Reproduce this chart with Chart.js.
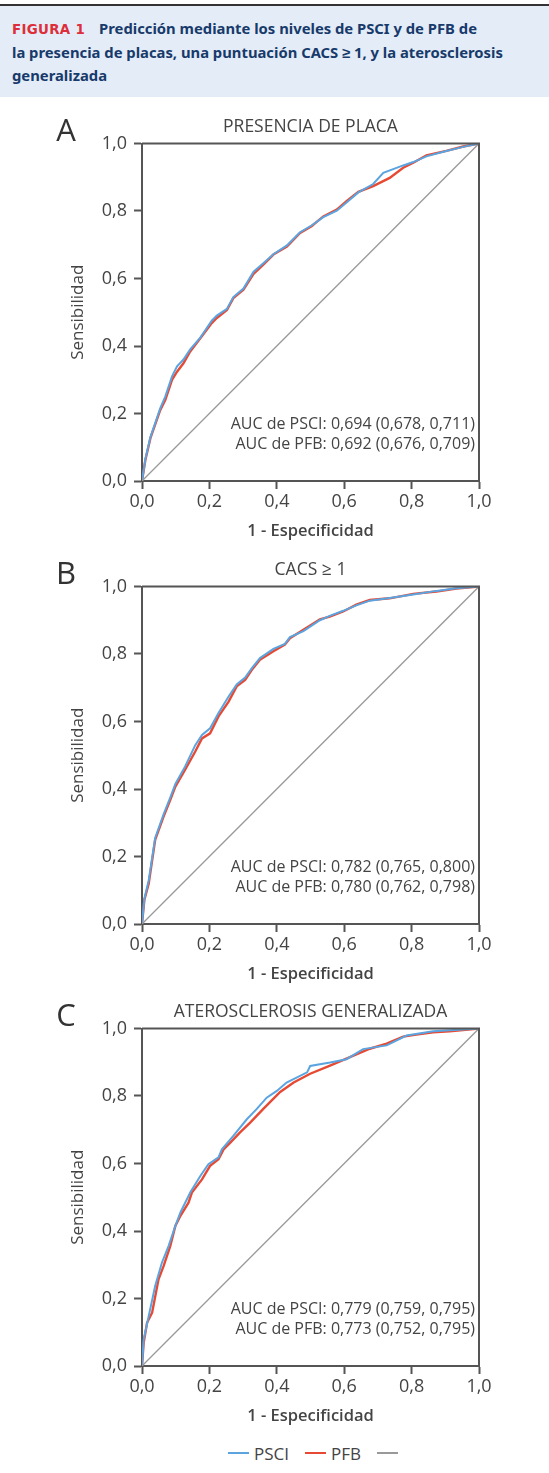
<!DOCTYPE html>
<html>
<head>
<meta charset="utf-8">
<script src="https://cdn.jsdelivr.net/npm/chart.js@4"></script>
<style>
  body { margin: 0; background: #fff; width: 549px; height: 1473px; position: relative; overflow: hidden; font-family: "Open Sans", sans-serif; }
  #header { position: absolute; left: 0; top: 4px; width: 549px; height: 93px; border-top: 2px solid #333; background: #e3ecf7; box-sizing: border-box; padding: 11px 12px 0 12px; font-family: "Noto Sans", sans-serif; font-weight: 700; font-size: 14.8px; line-height: 23px; color: #173a6b; white-space: nowrap; }
  #header .fig { color: #dd2f3a; font-family: "DejaVu Sans", sans-serif; font-size: 13.4px; letter-spacing: 0.3px; margin-right: 14px; }
  canvas { position: absolute; left: 0; }
  #legend { position: absolute; top: 1441px; left: 228px; font-size: 17px; color: #444; display: flex; align-items: center; height: 24px; }
  #legend span.l { display: inline-block; width: 21px; height: 2px; margin-right: 5px; }
  #legend span.t { margin-right: 16px; }
</style>
</head>
<body>
<div id="header"><span class="fig">FIGURA 1</span>Predicción mediante los niveles de PSCI y de PFB de<br>la presencia de placas, una puntuación CACS ≥ 1, y la aterosclerosis<br>generalizada</div>
<canvas id="chartA" width="549" height="445" style="top:100px"></canvas>
<canvas id="chartB" width="549" height="445" style="top:543px"></canvas>
<canvas id="chartC" width="549" height="445" style="top:985px"></canvas>
<div id="legend"><span class="l" style="background:#5ba4e0"></span><span class="t">PSCI</span><span class="l" style="background:#e64a34"></span><span class="t">PFB</span><span class="l" style="background:#999"></span></div>
<script>
// Valores (1 - especificidad, sensibilidad)
const axisTicks = [0, 0.2, 0.4, 0.6, 0.8, 1.0];
const diagX = [0, 1];
const diagY = [0, 1];

// A - presencia de placa
const aPsciFpr = [0,0.01,0.025,0.054,0.069,0.089,0.104,0.123,0.143,0.173,0.207,0.222,0.252,0.271,0.301,0.331,0.36,0.39,0.43,0.469,0.503,0.538,0.578,0.607,0.642,0.686,0.716,0.775,0.805,0.844,0.903,0.953,1];
const aPsciTpr = [0,0.065,0.13,0.215,0.25,0.31,0.34,0.36,0.39,0.425,0.475,0.49,0.51,0.545,0.57,0.62,0.645,0.672,0.698,0.737,0.757,0.782,0.801,0.825,0.855,0.88,0.913,0.935,0.945,0.962,0.978,0.99,1];
const aPfbFpr = [0,0.01,0.025,0.054,0.069,0.089,0.104,0.123,0.143,0.173,0.207,0.222,0.252,0.271,0.301,0.331,0.36,0.39,0.43,0.469,0.503,0.538,0.578,0.607,0.642,0.686,0.735,0.775,0.805,0.844,0.903,0.953,1];
const aPfbTpr = [0,0.062,0.127,0.21,0.24,0.30,0.324,0.349,0.384,0.423,0.468,0.483,0.507,0.542,0.567,0.614,0.641,0.671,0.695,0.735,0.755,0.784,0.804,0.829,0.857,0.874,0.898,0.928,0.943,0.965,0.978,0.991,1];

// B - CACS >= 1
const bPsciFpr = [0,0.007,0.02,0.039,0.064,0.084,0.099,0.128,0.158,0.178,0.202,0.227,0.257,0.281,0.306,0.326,0.35,0.39,0.424,0.439,0.479,0.528,0.557,0.597,0.636,0.676,0.735,0.805,0.874,0.933,1];
const bPsciTpr = [0,0.075,0.13,0.255,0.325,0.375,0.415,0.467,0.53,0.56,0.58,0.625,0.674,0.71,0.73,0.758,0.788,0.815,0.83,0.85,0.868,0.9,0.913,0.928,0.944,0.958,0.966,0.976,0.987,0.995,1];
const bPfbFpr = [0,0.007,0.02,0.039,0.064,0.084,0.099,0.128,0.158,0.178,0.202,0.227,0.257,0.281,0.306,0.326,0.35,0.39,0.424,0.439,0.479,0.528,0.557,0.597,0.636,0.676,0.735,0.805,0.874,0.933,1];
const bPfbTpr = [0,0.071,0.12,0.249,0.318,0.368,0.407,0.457,0.511,0.55,0.565,0.615,0.659,0.704,0.723,0.753,0.783,0.808,0.828,0.847,0.872,0.903,0.911,0.926,0.946,0.96,0.965,0.978,0.985,0.994,1];

// C - aterosclerosis generalizada
const cPsciFpr = [0,0.005,0.02,0.039,0.059,0.079,0.099,0.114,0.143,0.173,0.197,0.227,0.237,0.271,0.311,0.34,0.37,0.4,0.429,0.49,0.499,0.558,0.607,0.656,0.726,0.785,0.864,1];
const cPsciTpr = [0,0.079,0.148,0.237,0.306,0.356,0.415,0.455,0.514,0.563,0.598,0.618,0.642,0.682,0.731,0.761,0.795,0.815,0.84,0.87,0.889,0.899,0.909,0.939,0.95,0.979,0.992,1];
const cPfbFpr = [0,0.005,0.015,0.03,0.049,0.064,0.084,0.099,0.114,0.138,0.148,0.178,0.202,0.227,0.242,0.262,0.291,0.321,0.36,0.41,0.45,0.499,0.558,0.617,0.676,0.726,0.775,0.814,0.864,0.913,1];
const cPfbTpr = [0,0.069,0.128,0.158,0.257,0.296,0.356,0.415,0.445,0.484,0.514,0.553,0.593,0.613,0.642,0.662,0.692,0.721,0.762,0.812,0.84,0.866,0.89,0.915,0.94,0.955,0.976,0.982,0.989,0.992,1];

const panelTitles = ['PRESENCIA DE PLACA', 'CACS ≥ 1', 'ATEROSCLEROSIS GENERALIZADA'];
const panelLetters = ['A', 'B', 'C'];
const aucPsci = ['AUC de PSCI: 0,694 (0,678, 0,711)', 'AUC de PSCI: 0,782 (0,765, 0,800)', 'AUC de PSCI: 0,779 (0,759, 0,795)'];
const aucPfb = ['AUC de PFB: 0,692 (0,676, 0,709)', 'AUC de PFB: 0,780 (0,762, 0,798)', 'AUC de PFB: 0,773 (0,752, 0,795)'];

const axisColor = '#555';
const textColor = '#444';

function pts(xs, ys) {
    return xs.map((x, i) => ({ x: x, y: ys[i] }));
}

function fmt(v) {
    return Number(v).toFixed(1).replace('.', ',');
}

// marco, título, letra y textos AUC de cada panel
const panelDecor = {
    id: 'panelDecor',
    afterDatasetsDraw(chart, args, opts) {
        const a = chart.chartArea;
        const ctx = chart.ctx;
        ctx.save();
        ctx.strokeStyle = axisColor;
        ctx.lineWidth = 2;
        ctx.beginPath();
        ctx.moveTo(a.left, a.top);
        ctx.lineTo(a.right, a.top);
        ctx.lineTo(a.right, a.bottom);
        ctx.stroke();

        ctx.fillStyle = textColor;
        ctx.textBaseline = 'middle';
        ctx.font = '17.5px "Open Sans"';
        ctx.textAlign = 'center';
        ctx.fillText(opts.title, (a.left + a.right) / 2, a.top - 16);

        ctx.fillStyle = '#333';
        ctx.font = '500 31px "Open Sans"';
        ctx.fillText(opts.letter, 66, a.top - 11);

        ctx.fillStyle = textColor;
        ctx.font = '16px "Open Sans"';
        ctx.textAlign = 'right';
        ctx.fillText(opts.auc1, a.right - 4, a.bottom - 57);
        ctx.fillText(opts.auc2, a.right - 4, a.bottom - 37);
        ctx.restore();
    }
};

function makePanel(id, k, psciX, psciY, pfbX, pfbY) {
    const ctx = document.getElementById(id).getContext('2d');
    const axisBase = {
        type: 'linear',
        min: 0,
        max: 1,
        afterBuildTicks: (s) => { s.ticks = axisTicks.map(v => ({ value: v })); },
        border: { display: true, color: axisColor, width: 2 },
        grid: { drawOnChartArea: false, drawTicks: true, tickLength: 8, tickColor: axisColor, tickWidth: 2 },
        ticks: { color: textColor, font: { family: 'Open Sans', size: 18 }, callback: fmt }
    };
    new Chart(ctx, {
        type: 'line',
        data: {
            datasets: [
                { label: '', data: pts(diagX, diagY), borderColor: '#999', borderWidth: 1.3, pointRadius: 0 },
                { label: 'PSCI', data: pts(psciX, psciY), borderColor: '#5ba4e0', borderWidth: 2, pointRadius: 0 },
                { label: 'PFB', data: pts(pfbX, pfbY), borderColor: '#e64a34', borderWidth: 2.4, pointRadius: 0 }
            ]
        },
        options: {
            responsive: false,
            animation: false,
            layout: { padding: { top: 43.5, left: 62, right: 70, bottom: 4 } },
            plugins: {
                legend: { display: false },
                tooltip: { enabled: false },
                panelDecor: { title: panelTitles[k], letter: panelLetters[k], auc1: aucPsci[k], auc2: aucPfb[k] }
            },
            scales: {
                x: Object.assign({}, axisBase, {
                    ticks: Object.assign({}, axisBase.ticks, { padding: 2, maxRotation: 0 }),
                    title: { display: true, text: '1 - Especificidad', color: textColor, font: { family: 'Open Sans', size: 16.5, weight: '600' }, padding: { top: 0, bottom: 0 } },
                    afterFit: (s) => { s.height = 60; }
                }),
                y: Object.assign({}, axisBase, {
                    ticks: Object.assign({}, axisBase.ticks, { padding: 7 }),
                    title: { display: true, text: 'Sensibilidad', color: textColor, font: { family: 'Open Sans', size: 17, weight: '500' }, padding: { top: 6, bottom: 0 } },
                    afterFit: (s) => { s.width = 80; }
                })
            }
        },
        plugins: [panelDecor]
    });
}

makePanel('chartA', 0, aPsciFpr, aPsciTpr, aPfbFpr, aPfbTpr);
makePanel('chartB', 1, bPsciFpr, bPsciTpr, bPfbFpr, bPfbTpr);
makePanel('chartC', 2, cPsciFpr, cPsciTpr, cPfbFpr, cPfbTpr);
</script>
</body>
</html>
